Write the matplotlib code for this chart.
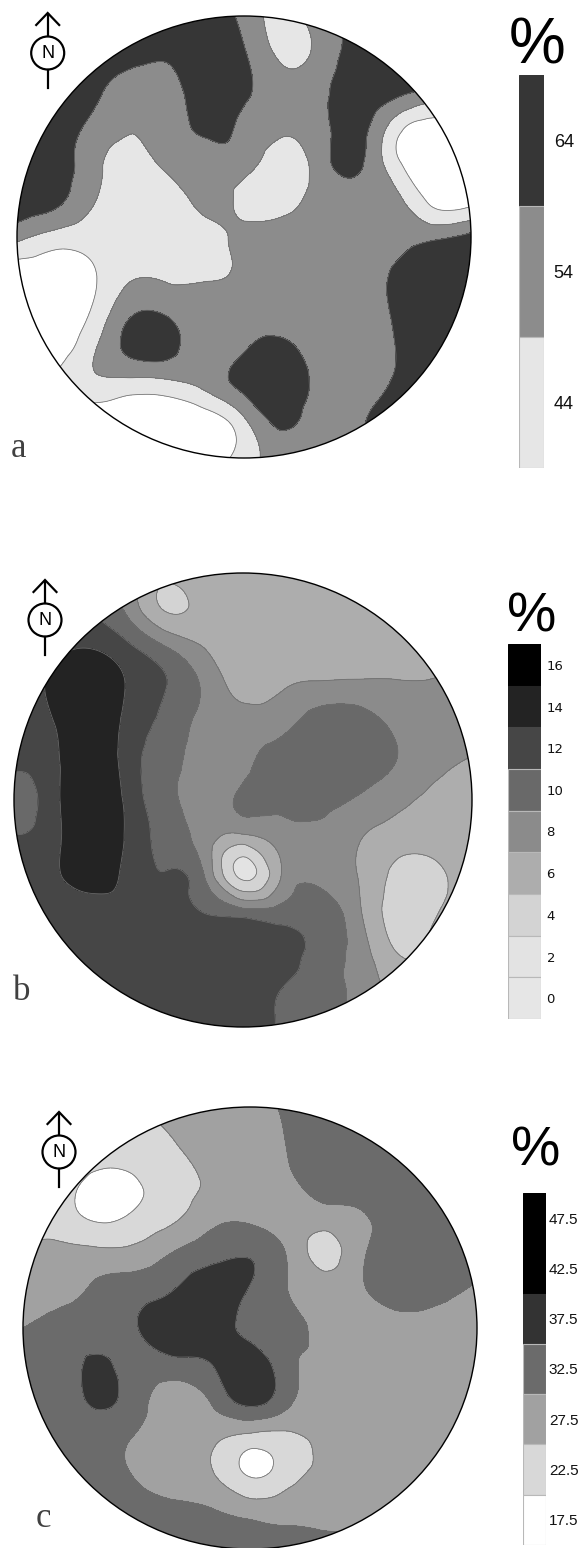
import numpy as np
import matplotlib
matplotlib.use("Agg")
import matplotlib.pyplot as plt
import matplotlib.tri as mtri
from matplotlib.patches import Ellipse, Circle

# ---------------- data (grid values, rows north->south, cols west->east)
a_values = [
    [66, 66, 66, 66, 66, 64, 56, 46, 55, 63, 66, 60, 56],
    [66, 66, 66, 64, 61, 66, 60, 47, 52, 63, 64, 60, 55],
    [66, 66, 62, 53, 55, 64, 61, 53, 56, 65, 63, 56, 45],
    [66, 63, 57, 50, 54, 61, 57, 51, 55, 63, 44, 35, 36],
    [64, 63, 53, 44, 52, 55, 53, 44, 54, 61, 42, 33, 34],
    [64, 62, 50, 43, 43, 52, 46, 44, 53, 55, 52, 36, 36],
    [52, 45, 43, 42, 43, 45, 52, 55, 56, 56, 56, 57, 62],
    [34, 34, 38, 47, 47, 47, 51, 55, 55, 56, 60, 66, 66],
    [34, 33, 40, 57, 57, 54, 54, 54, 55, 56, 60, 66, 66],
    [34, 34, 47, 62, 62, 54, 58, 61, 55, 55, 59, 65, 66],
    [36, 40, 46, 45, 46, 52, 62, 64, 57, 55, 60, 64, 64],
    [36, 34, 32, 30, 30, 33, 47, 61, 54, 57, 63, 64, 64],
    [36, 34, 32, 30, 30, 33, 44, 52, 50, 58, 62, 64, 64],
]
b_values = [
    [12, 12, 11, 8, 5.8, 6, 6, 6, 6, 6, 6, 6, 7],
    [12, 12, 11, 8.5, 4.9, 5.8, 6, 6, 6, 6, 6, 6, 6],
    [12, 12.5, 13.0, 11.5, 9.2, 7.0, 6, 6, 6, 6, 6, 6.5, 7],
    [12, 13.4, 14.5, 12.8, 11.0, 8.6, 6.3, 6.8, 7.4, 7.5, 7.3, 7.2, 7.5],
    [12, 12.8, 14.8, 12.3, 10.4, 8.3, 8.0, 8.5, 10.1, 10.2, 8.6, 8.0, 7.6],
    [11.5, 12.3, 14.8, 12.0, 9.8, 8.0, 8.6, 9.6, 10.2, 10.2, 9.0, 7.6, 6.8],
    [9.8, 12.2, 14.8, 12.4, 9.6, 8.2, 9.3, 9.4, 9.4, 8.8, 7.6, 6.6, 6.2],
    [11.2, 12.3, 14.6, 12.6, 10.3, 8.0, 6.3, 8.0, 8.4, 7.2, 6.0, 5.8, 6.0],
    [12, 12.6, 13.8, 12.4, 11.1, 8.9, 2.5, 7.0, 8.3, 7.0, 4.5, 4.5, 6.0],
    [12, 12.2, 12.3, 12.5, 12.0, 11.0, 10.2, 10.0, 10.4, 7.5, 4.2, 4.8, 6.0],
    [12, 12.2, 12.2, 12.2, 12.2, 12.2, 12.2, 12.0, 10.2, 8.2, 5.0, 5.5, 6.0],
    [12, 12, 12, 12.2, 12.2, 12.2, 12.0, 11.0, 10.0, 8.4, 6.5, 6.0, 6.0],
    [12, 12, 12, 12, 12, 12, 12, 10.8, 10.0, 8.5, 7, 6.5, 6.5],
]
c_values = [
    [27, 25, 23, 24, 27, 27.5, 27.5, 31, 32.5, 32.5, 32.5, 32, 31],
    [24, 23, 22.5, 23, 24.8, 27.5, 27.5, 30.2, 32.5, 33, 33, 32.5, 31],
    [22, 22, 18.8, 19.8, 23, 25.8, 27.5, 29.2, 32.3, 33, 33, 32.5, 31],
    [22, 22, 19.2, 21.0, 24.2, 28.5, 29.0, 27.5, 27.5, 29.5, 32.8, 32.2, 30],
    [27, 26.5, 26.5, 27.0, 30.5, 33.5, 34.6, 29.5, 23.5, 29.5, 32.8, 32.4, 30.5],
    [27.5, 28.5, 31, 33, 35.2, 38, 34.5, 30.0, 27.5, 29.5, 33.0, 31.5, 29.3],
    [30, 32, 33, 34.8, 38.5, 38, 33.5, 31.5, 28.5, 27.5, 27.5, 27.5, 27.5],
    [31.5, 32.5, 35.7, 33, 33.2, 35, 38.5, 31.5, 29.0, 27.5, 27.5, 27.5, 27.5],
    [32.5, 32.5, 35.7, 32, 27.5, 30.5, 36.5, 31, 27.5, 27.5, 27.5, 27.5, 27.5],
    [32, 32.5, 32.5, 29.5, 27.5, 26, 23.0, 23.5, 26.5, 27.5, 27.5, 27.5, 27.5],
    [32, 32.5, 32.5, 29.5, 27.5, 25.5, 19.7, 23, 26.5, 27.5, 27.5, 27.5, 27.5],
    [32.5, 32.5, 32.5, 32.5, 31.5, 30.5, 28.5, 28.5, 28.5, 28.5, 27.5, 27.5, 27.5],
    [32.5, 32.5, 32.5, 32.5, 32.5, 32.5, 32, 31.5, 31.5, 31, 29, 28, 27.5],
]

a_labels = ["64", "54", "44"]
a_boundaries = [-100, 39, 49, 59, 200]
a_fill = ["#ffffff", "#e6e6e6", "#8c8c8c", "#363636"]

b_labels = ["16", "14", "12", "10", "8", "6", "4", "2", "0"]
b_boundaries = [-100, 1, 3, 5, 7, 9, 11, 13, 15, 100]
b_fill = ["#e6e6e6", "#e3e3e3", "#d3d3d3", "#adadad", "#8b8b8b",
          "#696969", "#464646", "#232323", "#000000"]

c_labels = ["47.5", "42.5", "37.5", "32.5", "27.5", "22.5", "17.5"]
c_boundaries = [-100, 20, 25, 30, 35, 40, 45, 200]
c_fill = ["#ffffff", "#d8d8d8", "#a1a1a1", "#6b6b6b", "#333333", "#000000", "#000000"]

panel_letters = ["a", "b", "c"]

# ---------------- figure
W, H = 587, 1548
fig = plt.figure(figsize=(W / 100, H / 100), dpi=100)
ax = fig.add_axes([0, 0, 1, 1])
ax.set_xlim(0, W)
ax.set_ylim(H, 0)
ax.axis("off")

PT = 72.0 / 100.0  # points per pixel


def grid_triangulation(X, Y):
    n, m = X.shape
    tris = []
    for i in range(n - 1):
        for j in range(m - 1):
            p = i * m + j
            tris.append([p, p + 1, p + m + 1])
            tris.append([p, p + m + 1, p + m])
    return mtri.Triangulation(X.ravel(), Y.ravel(), np.array(tris))


def draw_map(values, cx, cy, rx, ry, bounds, fills):
    Z = np.array(values, dtype=float)
    n = Z.shape[0]
    g = np.linspace(-1, 1, n)
    U, V = np.meshgrid(g, g[::-1])
    X = cx + rx * U
    Y = cy - ry * V
    tri = grid_triangulation(X, Y)
    refiner = mtri.UniformTriRefiner(tri)
    tri_r, z_r = refiner.refine_field(Z.ravel(), subdiv=4)
    cf = ax.tricontourf(tri_r, z_r, levels=bounds, colors=fills, zorder=1)
    cl = ax.tricontour(tri_r, z_r, levels=bounds[1:-1], colors="#6e6e6e",
                       linewidths=0.55, zorder=2)
    clip = Ellipse((cx, cy), 2 * rx, 2 * ry, transform=ax.transData)
    cf.set_clip_path(clip)
    cl.set_clip_path(clip)
    ax.add_patch(Ellipse((cx, cy), 2 * rx, 2 * ry, facecolor="none",
                         edgecolor="black", linewidth=1.0, zorder=5))


def lum(hexcol):
    r, g, b = matplotlib.colors.to_rgb(hexcol)
    return 0.3 * r + 0.59 * g + 0.11 * b


def draw_legend(labels, colors_top_down, x0, x1, y0, y1, fontfam, fsize, pad,
                pct_xy, pct_size):
    cax = fig.add_axes([x0 / W, 1 - y1 / H, (x1 - x0) / W, (y1 - y0) / H])
    n = len(labels)
    for i, (lab, col) in enumerate(zip(labels, colors_top_down)):
        pos = n - 1 - i
        edge = col if lum(col) < 0.3 else "#b8b8b8"
        cax.bar(0, 1, bottom=pos, width=1, color=col, edgecolor=edge,
                linewidth=0.8)
    cax.set_xlim(-0.5, 0.5)
    cax.set_ylim(0, n)
    cax.set_xticks([])
    cax.set_yticks([n - 1 - i + 0.5 for i in range(n)])
    cax.set_yticklabels(labels, family=fontfam, fontsize=fsize)
    cax.yaxis.tick_right()
    cax.tick_params(axis="y", length=0, pad=pad, colors="#111111")
    for s in cax.spines.values():
        s.set_visible(False)
    ax.text(pct_xy[0], pct_xy[1], "%", ha="center", va="center",
            fontsize=pct_size, family="Liberation Sans", color="black")


def draw_north(x, cy):
    r = 16.5
    lw = 2.2 * PT
    ax.add_patch(Circle((x, cy), r, facecolor="white", edgecolor="black",
                        linewidth=lw, zorder=6))
    tip = cy - 40
    ax.plot([x, x], [tip, cy - r], color="black", lw=lw, solid_capstyle="butt", zorder=6)
    ax.plot([x - 11.5, x, x + 11.5], [tip + 12, tip, tip + 12], color="black",
            lw=lw, solid_joinstyle="miter", zorder=6)
    ax.plot([x, x], [cy + r, cy + 35], color="black", lw=lw, zorder=6)
    ax.text(x, cy + 0.5, "N", ha="center", va="center", fontsize=13,
            family="Liberation Sans", color="black", zorder=7)


# panel a
draw_map(a_values, 244, 237, 227, 221, a_boundaries, a_fill)
draw_legend(a_labels, ["#363636", "#8c8c8c", "#e6e6e6"], 519, 544, 75, 468,
            "Liberation Sans", 13, 7, (537, 46), 46)
draw_north(47.7, 53)

# panel b
draw_map(b_values, 243, 800, 229, 227, b_boundaries, b_fill)
draw_legend(b_labels, b_fill[::-1], 508, 541, 644, 1019,
            "DejaVu Sans", 9.5, 4, (532, 617), 40)
draw_north(45, 620)

# panel c
draw_map(c_values, 250, 1328, 227, 221, c_boundaries, c_fill)
draw_legend(c_labels, c_fill[::-1], 523, 546, 1193, 1545,
            "Liberation Sans", 11, 2, (536, 1152), 40)
draw_north(59, 1152)

# panel letters
for letter, (x, y) in zip(panel_letters, [(18, 457), (22, 1000), (43, 1527)]):
    ax.text(x, y, letter, ha="center", va="baseline", fontsize=25,
            family="Liberation Serif", color="#404040")

fig.savefig("out.png", dpi=100)
